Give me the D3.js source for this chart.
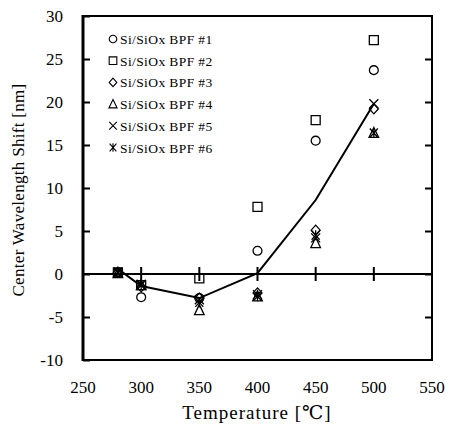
<!DOCTYPE html>
<html>
<head>
<meta charset="utf-8">
<script src="https://cdn.jsdelivr.net/npm/d3@7"></script>
<style>
  body { margin: 0; background: #fff; }
  text { font-family: "Liberation Serif", "DejaVu Serif", serif; fill: #000; }
</style>
</head>
<body>
<div id="chart"></div>
<script>
// temperatures (x) and wavelength shifts per filter
var temps = [280, 300, 350, 400, 450, 500];
var bpf1 = [0.2, -2.7, -2.8, 2.7, 15.5, 23.7];
var bpf2 = [0.2, -1.3, -0.5, 7.8, 17.9, 27.2];
var bpf3 = [0.2, -1.5, -2.8, -2.2, 5.1, 19.2];
var bpf4 = [0.1, -1.3, -4.2, -2.6, 3.6, 16.4];
var bpf5 = [0.2, -1.2, -3.0, -2.4, 4.2, 19.8];
var bpf6 = [0.2, -1.3, -3.3, -2.6, 4.5, 16.4];
var lineTemps = [280, 300, 350, 400, 450, 500];
var lineVals = [0.6, -1.4, -2.8, 0.1, 8.6, 19.8];
var seriesNames = ["Si/SiOx BPF #1", "Si/SiOx BPF #2", "Si/SiOx BPF #3",
                   "Si/SiOx BPF #4", "Si/SiOx BPF #5", "Si/SiOx BPF #6"];
var xTicks = [250, 300, 350, 400, 450, 500, 550];
var yTicks = [-10, -5, 0, 5, 10, 15, 20, 25, 30];

var allSeries = [bpf1, bpf2, bpf3, bpf4, bpf5, bpf6];
var shapes = ["circle", "square", "diamond", "triangle", "cross", "asterisk"];

const W = 451, H = 427;
const margin = {top: 16, right: 19, bottom: 67, left: 83};

const svg = d3.select("#chart").append("svg")
    .attr("width", W).attr("height", H);

var x = d3.scaleLinear().domain([250, 550]).range([margin.left, W - margin.right]);
var y = d3.scaleLinear().domain([-10, 30]).range([H - margin.bottom, margin.top]);

// marker path generator
function markerPath(shape) {
    if (shape == "circle") return d3.symbol(d3.symbolCircle, 62)();
    if (shape == "square") return "M-4.5,-4.5H4.5V4.5H-4.5Z";
    if (shape == "diamond") return "M0,-5L4.5,0L0,5L-4.5,0Z";
    if (shape == "triangle") return "M0,-5.5L4.8,4.5H-4.8Z";
    if (shape == "cross") return "M-4.5,-4.5L4.5,4.5M4.5,-4.5L-4.5,4.5";
    return "M-4,-4.5L4,4.5M4,-4.5L-4,4.5M0,-5V5";
}

// frame
svg.append("rect")
    .attr("x", x(250)).attr("y", y(30))
    .attr("width", x(550) - x(250)).attr("height", y(-10) - y(30))
    .attr("fill", "none").attr("stroke", "#000").attr("stroke-width", 2);
svg.append("line")
    .attr("x1", x(250)).attr("x2", x(250)).attr("y1", y(30) - 1).attr("y2", y(-10) + 1)
    .attr("stroke", "#000").attr("stroke-width", 3);

// y ticks, left inward and right inward
var leftAxis = svg.append("g")
    .attr("transform", "translate(" + x(250) + ",0)")
    .call(d3.axisRight(y).tickValues(yTicks).tickSize(7).tickFormat(""));
leftAxis.select(".domain").remove();
leftAxis.selectAll("line").attr("stroke-width", 2);

var rightAxis = svg.append("g")
    .attr("transform", "translate(" + x(550) + ",0)")
    .call(d3.axisLeft(y).tickValues(yTicks.slice(1, -1)).tickSize(7).tickFormat(""));
rightAxis.select(".domain").remove();
rightAxis.selectAll("line").attr("stroke-width", 2);

// y labels
svg.append("g").selectAll("text")
    .data(yTicks).join("text")
    .attr("x", 63).attr("y", d => y(d) + 6)
    .attr("text-anchor", "end")
    .attr("font-size", 17)
    .text(d => d < 0 ? "-" + Math.abs(d) : d);

// zero axis with crossing ticks
svg.append("line")
    .attr("x1", x(250)).attr("x2", x(550)).attr("y1", y(0)).attr("y2", y(0))
    .attr("stroke", "#000").attr("stroke-width", 2);
svg.append("g").selectAll("line")
    .data(xTicks.slice(1, -1)).join("line")
    .attr("x1", d => x(d)).attr("x2", d => x(d))
    .attr("y1", y(0) - 7).attr("y2", y(0) + 7)
    .attr("stroke", "#000").attr("stroke-width", 2);

// x labels
svg.append("g").selectAll("text")
    .data(xTicks).join("text")
    .attr("x", d => x(d)).attr("y", 393)
    .attr("text-anchor", "middle")
    .attr("font-size", 17)
    .text(d => d);

// axis titles
svg.append("text")
    .attr("x", 257).attr("y", 419)
    .attr("text-anchor", "middle").attr("font-size", 19)
    .attr("letter-spacing", 1)
    .text("Temperature [℃]");
svg.append("text")
    .attr("transform", "translate(24," + 190 + ") rotate(-90)")
    .attr("text-anchor", "middle").attr("font-size", 17)
    .attr("letter-spacing", 0.3)
    .text("Center Wavelength Shift [nm]");

// average line
var lineData = lineTemps.map((t, i) => ({t: t, v: lineVals[i]}));
svg.append("path")
    .datum(lineData)
    .attr("d", d3.line().x(d => x(d.t)).y(d => y(d.v)))
    .attr("fill", "none").attr("stroke", "#000").attr("stroke-width", 2);

// markers
allSeries.forEach(function (vals, si) {
    svg.append("g").selectAll("path")
        .data(vals).join("path")
        .attr("transform", (d, i) => "translate(" + x(temps[i]) + "," + y(d) + ")")
        .attr("d", markerPath(shapes[si]))
        .attr("fill", "none").attr("stroke", "#000").attr("stroke-width", 1.3);
});

// legend
var legend = svg.append("g");
seriesNames.forEach(function (name, i) {
    var ly = 39 + i * 21.7;
    legend.append("path")
        .attr("transform", "translate(113," + ly + ") scale(0.85)")
        .attr("d", markerPath(shapes[i]))
        .attr("fill", "none").attr("stroke", "#000").attr("stroke-width", 1.3);
    legend.append("text")
        .attr("x", 120).attr("y", ly + 5)
        .attr("font-size", 13.5)
        .attr("letter-spacing", 0.4)
        .text(name);
});
</script>
</body>
</html>
